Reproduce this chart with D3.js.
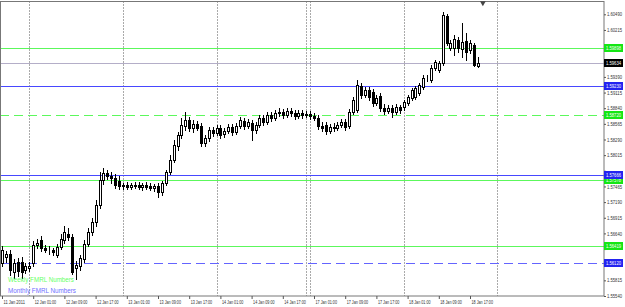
<!DOCTYPE html>
<html><head><meta charset="utf-8">
<script src="https://cdn.jsdelivr.net/npm/d3@7"></script>
<style>body{margin:0;background:#fff;} svg{display:block;}</style>
</head><body>
<svg id="c" width="625" height="307"></svg>
<script>
// ---- DATA (GBPUSD H1, 11 Jan 2011 17:00 .. 18 Jan 2011) ----
const open  = [1.56120,1.56226,1.56279,1.55962,1.56138,1.56138,1.55997,1.56032,1.56120,1.56436,1.56524,1.56384,1.56349,1.56349,1.56261,1.56401,1.56524,1.56630,1.56577,1.56032,1.56068,1.56191,1.56454,1.56665,1.56841,1.57139,1.57578,1.57701,1.57649,1.57613,1.57560,1.57473,1.57490,1.57455,1.57490,1.57490,1.57455,1.57490,1.57473,1.57437,1.57473,1.57368,1.57525,1.57719,1.57930,1.58176,1.58369,1.58527,1.58633,1.58492,1.58562,1.58527,1.58228,1.58316,1.58457,1.58404,1.58492,1.58387,1.58439,1.58510,1.58422,1.58527,1.58615,1.58527,1.58580,1.58457,1.58545,1.58668,1.58598,1.58720,1.58668,1.58756,1.58773,1.58720,1.58791,1.58756,1.58703,1.58756,1.58720,1.58738,1.58703,1.58668,1.58527,1.58545,1.58439,1.58510,1.58492,1.58545,1.58598,1.58527,1.58773,1.58808,1.59230,1.59072,1.59160,1.59125,1.58931,1.59054,1.58843,1.58791,1.58843,1.58773,1.58861,1.58861,1.58931,1.59019,1.59037,1.59107,1.59212,1.59370,1.59335,1.59546,1.59511,1.59634,1.60460,1.59898,1.59898,1.60038,1.59880,1.60021,1.59863,1.59950,1.59582];
const high  = [1.56419,1.56331,1.56349,1.56191,1.56208,1.56226,1.56120,1.56138,1.56506,1.56542,1.56594,1.56436,1.56419,1.56384,1.56454,1.56630,1.56770,1.56735,1.56630,1.56155,1.56261,1.56524,1.56735,1.56911,1.57227,1.57719,1.57789,1.57754,1.57719,1.57684,1.57649,1.57525,1.57543,1.57525,1.57543,1.57543,1.57525,1.57543,1.57525,1.57508,1.57525,1.57560,1.57754,1.58018,1.58281,1.58422,1.58668,1.58773,1.58685,1.58633,1.58615,1.58580,1.58369,1.58510,1.58510,1.58545,1.58545,1.58492,1.58562,1.58562,1.58580,1.58685,1.58668,1.58650,1.58633,1.58598,1.58720,1.58720,1.58773,1.58773,1.58808,1.58843,1.58826,1.58843,1.58843,1.58808,1.58808,1.58808,1.58791,1.58791,1.58756,1.58720,1.58598,1.58598,1.58562,1.58580,1.58598,1.58650,1.58650,1.58826,1.59037,1.59335,1.59283,1.59212,1.59212,1.59177,1.59072,1.59107,1.58914,1.58896,1.58896,1.58914,1.58896,1.58984,1.59072,1.59195,1.59230,1.59283,1.59423,1.59423,1.59599,1.59687,1.59669,1.60530,1.60495,1.60038,1.60126,1.60091,1.60337,1.60161,1.60038,1.59985,1.59740];
const low   = [1.56068,1.56138,1.55909,1.55856,1.55892,1.55856,1.55944,1.55979,1.56068,1.56384,1.56331,1.56314,1.56279,1.56261,1.56226,1.56366,1.56471,1.56524,1.55927,1.55839,1.55997,1.56138,1.56419,1.56612,1.56770,1.57086,1.57508,1.57596,1.57525,1.57437,1.57420,1.57420,1.57420,1.57420,1.57437,1.57420,1.57403,1.57420,1.57403,1.57385,1.57280,1.57315,1.57490,1.57684,1.57895,1.58106,1.58316,1.58457,1.58439,1.58422,1.58457,1.58176,1.58176,1.58263,1.58351,1.58369,1.58316,1.58334,1.58404,1.58369,1.58387,1.58492,1.58474,1.58492,1.58281,1.58404,1.58510,1.58545,1.58562,1.58615,1.58633,1.58703,1.58668,1.58685,1.58703,1.58650,1.58668,1.58668,1.58685,1.58650,1.58633,1.58474,1.58439,1.58387,1.58404,1.58439,1.58457,1.58510,1.58457,1.58492,1.58738,1.58773,1.59019,1.59037,1.58984,1.58879,1.58896,1.58791,1.58738,1.58756,1.58685,1.58738,1.58756,1.58808,1.58896,1.58984,1.59002,1.59072,1.59177,1.59318,1.59300,1.59511,1.59476,1.59599,1.59950,1.59863,1.59775,1.59828,1.59740,1.59687,1.59810,1.59582,1.59564];
const close = [1.56349,1.56279,1.55997,1.56120,1.55979,1.55962,1.56068,1.56068,1.56436,1.56471,1.56384,1.56349,1.56349,1.56314,1.56401,1.56542,1.56665,1.56577,1.55962,1.56085,1.56208,1.56454,1.56665,1.56841,1.57139,1.57578,1.57701,1.57649,1.57613,1.57490,1.57473,1.57490,1.57455,1.57490,1.57473,1.57455,1.57490,1.57455,1.57437,1.57473,1.57368,1.57525,1.57719,1.57930,1.58193,1.58369,1.58545,1.58633,1.58492,1.58562,1.58492,1.58228,1.58316,1.58457,1.58404,1.58492,1.58369,1.58439,1.58510,1.58422,1.58527,1.58633,1.58527,1.58598,1.58457,1.58545,1.58668,1.58598,1.58720,1.58668,1.58756,1.58773,1.58720,1.58791,1.58756,1.58703,1.58756,1.58720,1.58738,1.58703,1.58668,1.58527,1.58492,1.58439,1.58510,1.58492,1.58545,1.58598,1.58510,1.58773,1.58984,1.59247,1.59072,1.59160,1.59037,1.58931,1.59019,1.58843,1.58791,1.58843,1.58773,1.58861,1.58808,1.58949,1.59037,1.59160,1.59195,1.59247,1.59370,1.59375,1.59546,1.59652,1.59634,1.60477,1.59985,1.59985,1.60056,1.59898,1.60003,1.59828,1.59985,1.59599,1.59634];

const priceTicks = [1.55540,1.55815,1.56090,1.56365,1.56640,1.56915,1.57190,1.57465,1.57740,1.58015,1.58290,1.58565,1.58840,1.59115,1.59390,1.59665,1.59940,1.60215,1.60490];
const timeLabels = ["11 Jan 2011","12 Jan 01:00","12 Jan 09:00","12 Jan 17:00","13 Jan 01:00","13 Jan 09:00","13 Jan 17:00","14 Jan 01:00","14 Jan 09:00","14 Jan 17:00","17 Jan 01:00","17 Jan 09:00","17 Jan 17:00","18 Jan 01:00","18 Jan 09:00","18 Jan 17:00"];
const timeLabelBars = [0,8,16,24,32,40,48,56,64,72,80,88,96,104,112,120];
const daySeparatorBars = [7,31,55,78,79,103,127];

const weeklyLevels  = [1.59898, 1.58720, 1.57578, 1.56419];
const monthlyLevels = [1.59230, 1.57666, 1.56120];
const legendNames = ["Weekly FMRL Numbers", "Monthly FMRL Numbers"];

// ---- STYLES ----
const weeklyDashed = [false, true, false, false];
const monthlyDashed = [false, false, true];
const GREEN = "#5cf85c", BLUE = "#4848ff", BIDLINE = "#b4aec8";
const FONT = "Liberation Sans, Arial, sans-serif";

// ---- DRAW ----
const svg = d3.select("#c");
const plotR = 604, plotB = 296, plotT = 1.5;
const x = d3.scaleLinear().domain([0, 100]).range([2, 392]);
const y = d3.scaleLinear().domain([1.55540, 1.60490]).range([296, 14.3]);
const cx = i => Math.round(x(i)) + 0.5;
const cy = v => Math.round(y(v)) + 0.5;

svg.append("rect").attr("width", 625).attr("height", 307).attr("fill", "#fff");

// day separators
svg.append("g").selectAll("line").data(daySeparatorBars).join("line")
  .attr("x1", d => cx(d)).attr("x2", d => cx(d))
  .attr("y1", plotT).attr("y2", plotB)
  .attr("stroke", "#555").attr("stroke-width", 1).attr("stroke-dasharray", "1,2");

// levels
const levels = [];
weeklyLevels.forEach((v, k) => levels.push({v, color: GREEN, dashed: weeklyDashed[k]}));
monthlyLevels.forEach((v, k) => levels.push({v, color: BLUE, dashed: monthlyDashed[k]}));
const lastClose = close[close.length - 1];

svg.append("line").attr("x1", 0).attr("x2", plotR).attr("y1", cy(lastClose)).attr("y2", cy(lastClose))
  .attr("stroke", BIDLINE).attr("stroke-width", 1);
svg.append("g").selectAll("line").data(levels).join("line")
  .attr("x1", 0).attr("x2", plotR)
  .attr("y1", d => cy(d.v)).attr("y2", d => cy(d.v))
  .attr("stroke", d => d.dashed && d.color === BLUE ? "#6464ff" : d.color).attr("stroke-width", 1)
  .attr("stroke-dasharray", d => d.dashed ? "9,5" : null);

// candles
const bars = open.map((o, i) => ({i, o, h: high[i], l: low[i], c: close[i]}));
const cg = svg.append("g");
cg.selectAll("line").data(bars).join("line")
  .attr("x1", d => cx(d.i)).attr("x2", d => cx(d.i))
  .attr("y1", d => Math.round(y(d.h))).attr("y2", d => Math.round(y(d.l)) + 1)
  .attr("stroke", "#000").attr("stroke-width", 1);
cg.selectAll("rect").data(bars).join("rect")
  .attr("x", d => cx(d.i) - 1)
  .attr("width", 2)
  .attr("y", d => cy(Math.max(d.o, d.c)))
  .attr("height", d => Math.max(0, cy(Math.min(d.o, d.c)) - cy(Math.max(d.o, d.c))))
  .attr("fill", d => d.c >= d.o ? "#fff" : "#000")
  .attr("stroke", "#000").attr("stroke-width", 1);

// frame
svg.append("rect").attr("x", 0.5).attr("y", plotT).attr("width", plotR - 0.5).attr("height", plotB - plotT)
  .attr("fill", "none").attr("stroke", "#777").attr("stroke-width", 1);

// price tags (level values + last price)
const tags = levels.map(d => ({v: d.v, bg: d.color === GREEN ? "#14e614" : "#2323f0"}));
tags.push({v: lastClose, bg: "#000"});

// right price axis
const ya = svg.append("g").attr("transform", `translate(${plotR},0)`)
  .call(d3.axisRight(y).tickValues(priceTicks).tickFormat(d3.format(".5f")).tickSize(2).tickPadding(1));
ya.select(".domain").remove();
ya.selectAll("line").attr("stroke", "#555");
ya.selectAll("text").attr("font-family", FONT).attr("font-size", 5).attr("fill", "#333")
  .attr("textLength", 15).attr("lengthAdjust", "spacingAndGlyphs")
  .attr("display", d => tags.some(t => Math.abs(y(t.v) - y(d)) < 5) ? "none" : null);

// bottom time axis
const xa = svg.append("g").attr("transform", `translate(0,${plotB})`)
  .call(d3.axisBottom(x).tickValues(timeLabelBars).tickFormat((d, k) => timeLabels[k]).tickSize(3).tickPadding(1));
xa.select(".domain").remove();
xa.selectAll("line").attr("stroke", "#555");
xa.selectAll("text").attr("text-anchor", "start").attr("dx", 1).attr("font-family", FONT)
  .attr("font-size", 5.4).attr("fill", "#333")
  .attr("textLength", 21.5).attr("lengthAdjust", "spacingAndGlyphs");

const tg = svg.append("g").selectAll("g").data(tags).join("g")
  .attr("transform", d => `translate(${plotR},${Math.round(y(d.v))})`);
tg.append("rect").attr("x", 0).attr("y", -4).attr("width", 19).attr("height", 8).attr("fill", d => d.bg);
tg.append("text").attr("x", 2).attr("y", 2).attr("font-family", FONT).attr("font-size", 5)
  .attr("fill", "#fff").attr("textLength", 15).attr("lengthAdjust", "spacingAndGlyphs")
  .text(d => d3.format(".5f")(d.v));

// shift marker
svg.append("path").attr("d", d3.symbol(d3.symbolTriangle, 14)())
  .attr("transform", `translate(${x(123.3)},3) rotate(180)`).attr("fill", "#444");

// legend
svg.append("text").attr("x", 8).attr("y", 282).attr("font-family", FONT).attr("font-size", 7)
  .attr("fill", "#66ff66").attr("textLength", 66).attr("lengthAdjust", "spacingAndGlyphs").text(legendNames[0]);
svg.append("text").attr("x", 8).attr("y", 292.5).attr("font-family", FONT).attr("font-size", 7)
  .attr("fill", "#6f6fff").attr("textLength", 68).attr("lengthAdjust", "spacingAndGlyphs").text(legendNames[1]);
</script>
</body></html>
